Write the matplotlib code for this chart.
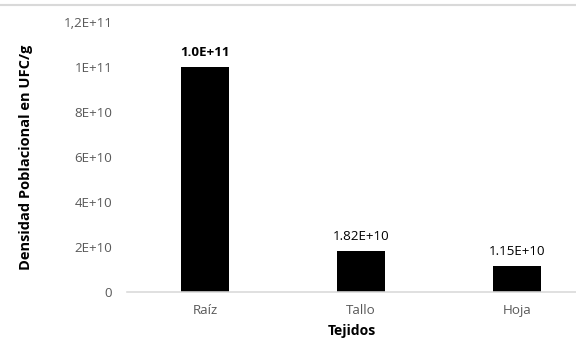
import matplotlib

matplotlib.use("Agg")
import matplotlib.pyplot as plt
from matplotlib.lines import Line2D

tejidos = ["Raíz", "Tallo", "Hoja"]
densidad = [1.0e11, 1.82e10, 1.15e10]
etiquetas = ["1.0E+11", "1.82E+10", "1.15E+10"]
y_ticks = [0, 2e10, 4e10, 6e10, 8e10, 1e11, 1.2e11]
y_tick_labels = ["0", "2E+10", "4E+10", "6E+10", "8E+10", "1E+11", "1,2E+11"]

GRIS = "#595959"
LINEA = "#d9d9d9"

plt.rcParams["font.family"] = ["Open Sans", "DejaVu Sans"]

W, H = 576, 344
fig = plt.figure(figsize=(W / 96, H / 96), dpi=96)
ax = fig.add_axes([127 / W, (H - 292) / H, (W - 127) / W, (292 - 22) / H])

x = list(range(len(tejidos)))
ax.bar(x, densidad, width=0.314, color="black")

for xi, v, t in zip(x, densidad, etiquetas):
    ax.annotate(t, (xi, v), xytext=(0, 6), textcoords="offset points",
                ha="center", va="bottom", fontsize=10, color="black",
                fontweight="bold" if xi == 0 else "normal")

ax.set_xlim(-0.5, (W - 205) / 156)
ax.set_ylim(0, 1.2e11)
ax.set_yticks(y_ticks)
ax.set_yticklabels(y_tick_labels)
ax.set_xticks(x)
ax.set_xticklabels(tejidos)
ax.tick_params(axis="both", length=0, labelsize=10, labelcolor=GRIS)
ax.tick_params(axis="y", pad=11)
ax.tick_params(axis="x", pad=9)

for s in ["top", "right", "left"]:
    ax.spines[s].set_visible(False)
ax.spines["bottom"].set_color(LINEA)
ax.spines["bottom"].set_linewidth(1.2)

ax.set_xlabel("Tejidos", fontsize=10.5, fontweight="bold", color="black", labelpad=5)
ax.set_ylabel("Densidad Poblacional en UFC/g", fontsize=11, fontweight="bold",
              color="black", labelpad=23)

# thin border line along the top of the chart area
fig.add_artist(Line2D([0, 1], [1 - 4.5 / H, 1 - 4.5 / H], transform=fig.transFigure,
                      color=LINEA, lw=1.6))

fig.savefig("out.png", dpi=96)
